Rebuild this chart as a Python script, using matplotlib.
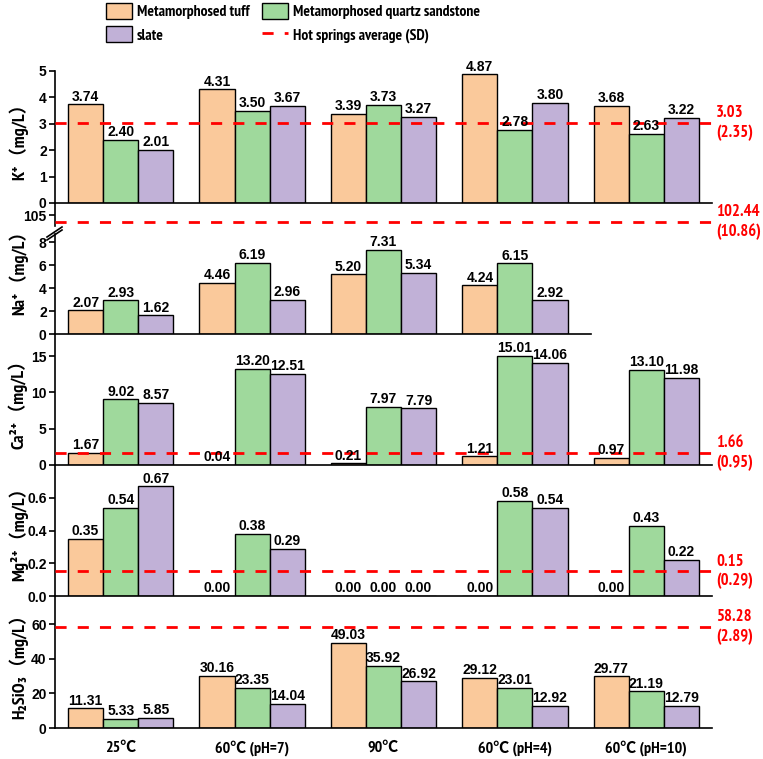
import numpy as np
import matplotlib
matplotlib.use('Agg')
import matplotlib.pyplot as plt
from matplotlib.patches import Patch
from matplotlib.lines import Line2D
import matplotlib.transforms as mtransforms

plt.rcParams['font.family'] = ['Liberation Sans', 'Noto Sans CJK SC', 'DejaVu Sans']
plt.rcParams['font.weight'] = 'bold'
NARROW = ['Liberation Sans Narrow', 'Arial Narrow', 'PT Sans Narrow', 'Fira Sans Condensed',
          'IBM Plex Sans Condensed', 'Asap Condensed', 'Barlow Semi Condensed',
          'Liberation Sans', 'Noto Sans CJK SC', 'DejaVu Sans']

# data
groups = ['25℃', '60℃ (pH=7)', '90℃', '60℃ (pH=4)', '60℃ (pH=10)']
rocks = ['Metamorphosed tuff', 'Metamorphosed quartz sandstone', 'slate']
colors = ['#fac99b', '#9fd99c', '#c1b1d7']

k_tuff = [3.74, 4.31, 3.39, 4.87, 3.68]
k_quartz = [2.40, 3.50, 3.73, 2.78, 2.63]
k_slate = [2.01, 3.67, 3.27, 3.80, 3.22]

na_tuff = [2.07, 4.46, 5.20, 4.24, np.nan]
na_quartz = [2.93, 6.19, 7.31, 6.15, np.nan]
na_slate = [1.62, 2.96, 5.34, 2.92, np.nan]

ca_tuff = [1.67, 0.04, 0.21, 1.21, 0.97]
ca_quartz = [9.02, 13.20, 7.97, 15.01, 13.10]
ca_slate = [8.57, 12.51, 7.79, 14.06, 11.98]

mg_tuff = [0.35, 0.00, 0.00, 0.00, 0.00]
mg_quartz = [0.54, 0.38, 0.00, 0.58, 0.43]
mg_slate = [0.67, 0.29, 0.00, 0.54, 0.22]

si_tuff = [11.31, 30.16, 49.03, 29.12, 29.77]
si_quartz = [5.33, 23.35, 35.92, 23.01, 21.19]
si_slate = [5.85, 14.04, 26.92, 12.92, 12.79]

# hot springs average and SD
k_avg, k_sd = 3.03, 2.35
na_avg, na_sd = 102.44, 10.86
ca_avg, ca_sd = 1.66, 0.95
mg_avg, mg_sd = 0.15, 0.29
si_avg, si_sd = 58.28, 2.89

W, H = 763, 759
fig = plt.figure(figsize=(W / 100, H / 100), dpi=100)
X0, X1 = 55, 712


def add_ax(top, bottom):
    return fig.add_axes([X0 / W, 1 - bottom / H, (X1 - X0) / W, (bottom - top) / H])


def style(ax, ylim, yticks, fmt='{:g}'):
    ax.set_xlim(-0.5, 4.5)
    ax.set_ylim(*ylim)
    ax.set_yticks(yticks)
    ax.set_yticklabels([fmt.format(t) for t in yticks])
    for s in ['top', 'right']:
        ax.spines[s].set_visible(False)
    for s in ['left', 'bottom']:
        ax.spines[s].set_linewidth(1.2)
    ax.tick_params(axis='y', direction='out', length=4, width=1.2, labelsize=10, pad=2)
    ax.tick_params(axis='x', length=0, labelbottom=False)
    ax.patch.set_visible(False)


def draw_bars(ax, series):
    x = np.arange(len(groups))
    w = 0.267
    for i, (vals, c) in enumerate(zip(series, colors)):
        xs = x + (i - 1) * w
        ax.bar(xs, vals, w, color=c, edgecolor='black', linewidth=1, zorder=2)
        for xi, v in zip(xs, vals):
            if np.isnan(v):
                continue
            ax.annotate(f'{v:.2f}', (xi, v), xytext=(0, 0.5), textcoords='offset points',
                        ha='center', va='bottom', fontsize=10, fontweight='bold', zorder=4)


def avg_line(ax, avg, sd):
    ax.axhline(avg, color='#ff0000', lw=2, ls=(0, (4, 4)), zorder=3)
    trans = mtransforms.blended_transform_factory(ax.transAxes, ax.transData)
    ax.text(1.006, avg, f'{avg:.2f}\n({sd:.2f})', transform=trans, color='#ff0000',
            ha='left', va='center', fontsize=12, fontweight='bold', family=NARROW,
            linespacing=1.25, clip_on=False)


# K+
ax_k = add_ax(71, 203)
style(ax_k, (0, 5), [0, 1, 2, 3, 4, 5])
draw_bars(ax_k, [k_tuff, k_quartz, k_slate])
avg_line(ax_k, k_avg, k_sd)

# Na+ (broken axis)
ax_na_top = add_ax(203, 226)
style(ax_na_top, (100.98, 109.39), [105])
ax_na_top.spines['bottom'].set_visible(False)
avg_line(ax_na_top, na_avg, na_sd)

ax_na = add_ax(234, 334)
style(ax_na, (0, 8.7), [0, 2, 4, 6, 8])
ax_na.spines['bottom'].set_bounds(-0.5, 3.58)
draw_bars(ax_na, [na_tuff, na_quartz, na_slate])

# break marks
for dy in (0, 3):
    fig.add_artist(Line2D([47 / W, 62 / W], [1 - (237 + dy) / H, 1 - (227 + dy) / H],
                          color='black', lw=1.2, transform=fig.transFigure))

# Ca2+
ax_ca = add_ax(334, 465)
style(ax_ca, (0, 18.03), [0, 5, 10, 15])
draw_bars(ax_ca, [ca_tuff, ca_quartz, ca_slate])
avg_line(ax_ca, ca_avg, ca_sd)

# Mg2+
ax_mg = add_ax(465, 596)
style(ax_mg, (0, 0.8), [0.0, 0.2, 0.4, 0.6], fmt='{:.1f}')
draw_bars(ax_mg, [mg_tuff, mg_quartz, mg_slate])
avg_line(ax_mg, mg_avg, mg_sd)

# H2SiO3
ax_si = add_ax(596, 728)
style(ax_si, (0, 76.2), [0, 20, 40, 60])
draw_bars(ax_si, [si_tuff, si_quartz, si_slate])
avg_line(ax_si, si_avg, si_sd)
ax_si.set_xticks(np.arange(len(groups)))
ax_si.tick_params(axis='x', labelbottom=True, pad=9)
ax_si.set_xticklabels(groups, fontsize=11.5, fontweight='bold', family=NARROW)

# y labels
ylabels = [('K⁺（mg/L）', 137), ('Na⁺（mg/L）', 268), ('Ca²⁺（mg/L）', 400),
           ('Mg²⁺（mg/L）', 530), ('H₂SiO₃（mg/L）', 662)]
for txt, yc in ylabels:
    fig.text(18 / W, 1 - yc / H, txt, rotation=90, ha='center', va='center',
             fontsize=13, fontweight='bold', family=NARROW)

# legend
handles = [Patch(facecolor=colors[0], edgecolor='black', lw=1),
           Patch(facecolor=colors[2], edgecolor='black', lw=1),
           Patch(facecolor=colors[1], edgecolor='black', lw=1),
           Line2D([], [], color='#ff0000', lw=2, ls=(0, (4, 4)))]
labels = [rocks[0], rocks[2], rocks[1], 'Hot springs average (SD)']
fig.legend(handles, labels, ncol=2, loc='upper left', bbox_to_anchor=(100 / W, 1.0 + 3 / H),
           frameon=False, prop={'family': NARROW, 'weight': 'bold', 'size': 11.2},
           handlelength=1.65, handleheight=1.2, handletextpad=0.3, columnspacing=0.85,
           labelspacing=0.45, borderaxespad=0.0)

fig.savefig('out.png', dpi=100)
